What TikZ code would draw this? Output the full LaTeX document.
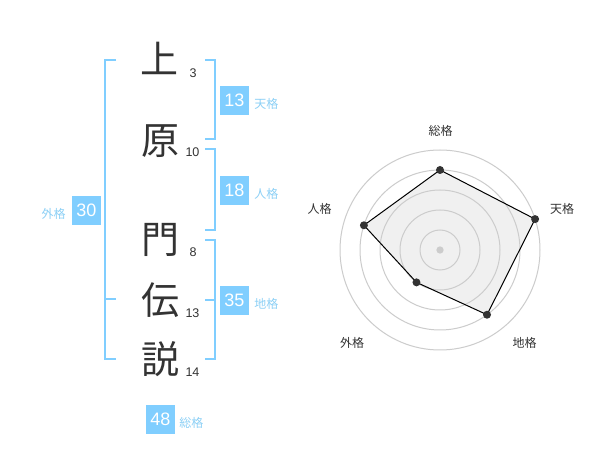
\documentclass[tikz,border=0pt]{standalone}
\usepackage{fontspec}
\setmainfont{Liberation Sans}
\newfontfamily\jp{Noto Sans CJK JP}
\definecolor{boxblue}{RGB}{128,206,255}
\definecolor{lblblue}{RGB}{140,208,246}
\definecolor{brblue}{RGB}{128,206,255}
\definecolor{txtdark}{RGB}{51,51,51}
\definecolor{ringgray}{RGB}{204,204,204}
\definecolor{polyfill}{RGB}{240,240,240}
\tikzset{
  bigchar/.style={inner sep=0pt, text=txtdark, font=\jp\fontsize{28.5}{28.5}\selectfont},
  strokes/.style={inner sep=0pt, text=txtdark, font=\fontsize{9.4}{9.4}\selectfont},
  valbox/.style={fill=boxblue, text=white, inner sep=0pt, minimum size=21.75pt, font=\fontsize{13.5}{13.5}\selectfont},
  kaku/.style={inner sep=0pt, text=lblblue, font=\jp\fontsize{9}{9}\selectfont},
  bracket/.style={draw=brblue, line width=1.5pt},
  ring/.style={draw=ringgray, line width=0.75pt},
  axlabel/.style={inner sep=0pt, text=txtdark, font=\jp\fontsize{9}{9}\selectfont},
  dot/.style={circle, fill=txtdark, inner sep=0pt, minimum size=6pt},
}
\begin{document}
\begin{tikzpicture}[x=0.75pt, y=-0.75pt]
\useasboundingbox[fill=white] (0,0) rectangle (600,470);
% characters
\node[bigchar] (c1) at (159,58) {上};
\node[bigchar] (c2) at (160,141) {原};
\node[bigchar] (c3) at (160,240) {門};
\node[bigchar] (c4) at (160,300) {伝};
\node[bigchar] (c5) at (160,359.5) {説};
% stroke counts
\node[strokes] (s1) at (193,73) {3};
\node[strokes] (s2) at (192.5,152.5) {10};
\node[strokes] (s3) at (193,252) {8};
\node[strokes] (s4) at (192.5,313) {13};
\node[strokes] (s5) at (192.5,372) {14};
% brackets
\draw[bracket] (116,60) -- (105,60) -- (105,359) -- (116,359);
\draw[bracket] (105,299) -- (116,299);
\draw[bracket] (205,60) -- (215,60) -- (215,139) -- (205,139);
\draw[bracket] (205,149) -- (215,149) -- (215,230) -- (205,230);
\draw[bracket] (205,240) -- (215,240) -- (215,359) -- (205,359);
\draw[bracket] (205,300) -- (215,300);
% value boxes
\node[valbox] (ten) at (234.5,100.5) {13};
\node[kaku, anchor=west] (tenl) at (254,104) {天格};
\node[valbox] (jin) at (234.5,190.5) {18};
\node[kaku, anchor=west] (jinl) at (254,193.5) {人格};
\node[valbox] (chi) at (234.5,300.5) {35};
\node[kaku, anchor=west] (chil) at (254,304) {地格};
\node[valbox] (gai) at (86.5,210.5) {30};
\node[kaku, anchor=east] (gail) at (66,214) {外格};
\node[valbox] (sou) at (160.5,419) {48};
\node[kaku, anchor=west] (soul) at (179,423) {総格};
% radar chart
\begin{scope}[shift={(330pt,-187.5pt)}, x=0.75pt, y=0.75pt]
  \coordinate (rc) at (0,0);
  \coordinate (p1) at (90:80);
  \coordinate (p2) at (18:100);
  \coordinate (p3) at (-54:80);
  \coordinate (p4) at (-126:40);
  \coordinate (p5) at (162:80);
  \fill[polyfill] (p1) -- (p2) -- (p3) -- (p4) -- (p5) -- cycle;
  \foreach \r in {15,30,45,60,75} \draw[ring] (rc) circle[radius=\r pt];
  \draw[black, line width=0.75pt] (p1) -- (p2) -- (p3) -- (p4) -- (p5) -- cycle;
  \node[circle, fill=ringgray, inner sep=0pt, minimum size=5.5pt] (ctr) at (rc) {};
  \node[dot] (d1) at (p1) {};
  \node[dot] (d2) at (p2) {};
  \node[dot] (d3) at (p3) {};
  \node[dot] (d4) at (p4) {};
  \node[dot] (d5) at (p5) {};
  \node[axlabel] (a1) at (0.5,119.5) {総格};
  \node[axlabel] (a2) at (122,41) {天格};
  \node[axlabel] (a3) at (84.5,-93) {地格};
  \node[axlabel] (a4) at (-88,-93) {外格};
  \node[axlabel] (a5) at (-120.5,41) {人格};
\end{scope}
\end{tikzpicture}
\end{document}
